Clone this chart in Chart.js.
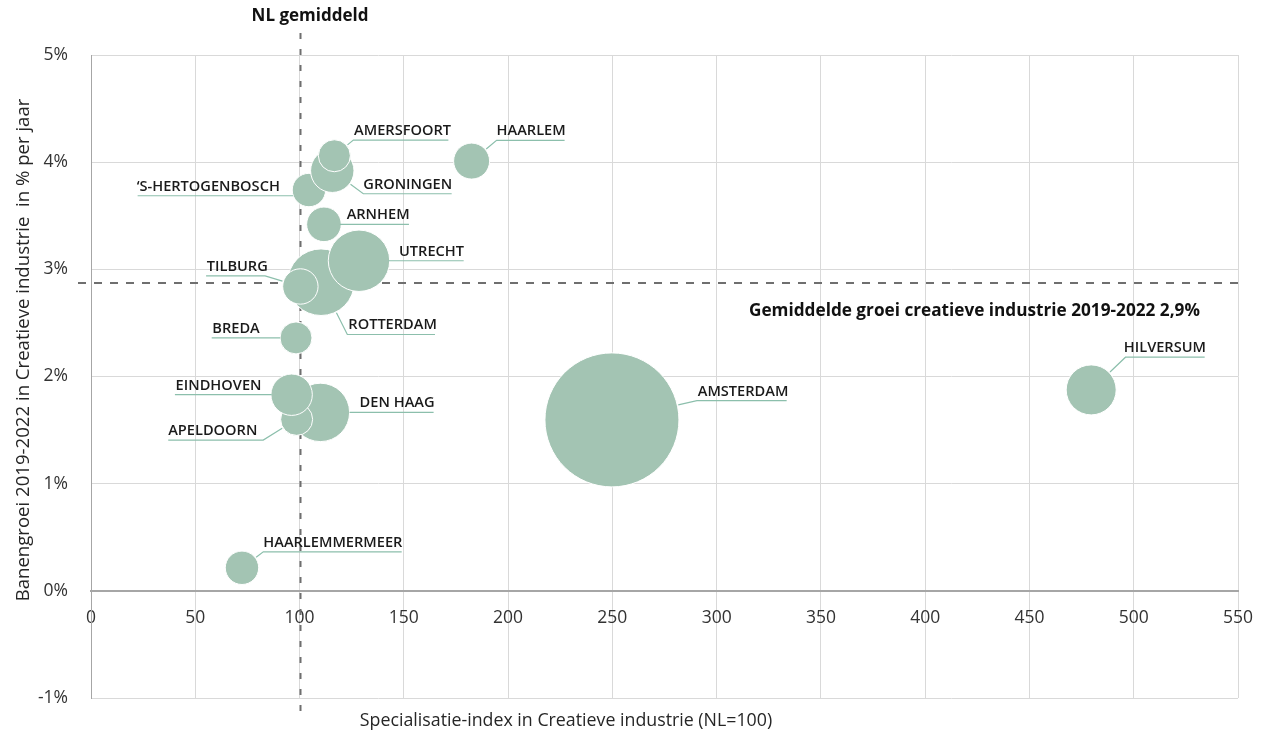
<!DOCTYPE html>
<html><head><meta charset="utf-8">
<script src="https://cdn.jsdelivr.net/npm/chart.js@4.4.1/dist/chart.umd.min.js"></script>
<style>html,body{margin:0;padding:0;background:#fff}#wrap{width:1268px;height:739px;position:relative}</style>
</head><body><div id="wrap"><canvas id="c" width="1268" height="739"></canvas></div>
<script>
// ---- data (drawing order: later bubbles on top) ----
const cities = ['ROTTERDAM','UTRECHT','TILBURG','DEN HAAG','APELDOORN','EINDHOVEN','\u2018S-HERTOGENBOSCH','GRONINGEN','AMERSFOORT','ARNHEM','BREDA','HAARLEM','HAARLEMMERMEER','AMSTERDAM','HILVERSUM'];
const specIndex = [110.3, 128.5, 100.4, 110.0, 98.6, 96.2, 104.5, 115.7, 116.7, 111.7, 98.3, 182.5, 72.4, 249.8, 479.6];
const growthPct = [2.88, 3.08, 2.84, 1.665, 1.60, 1.83, 3.74, 3.92, 4.06, 3.42, 2.36, 4.01, 0.215, 1.595, 1.875];
const bubbleSize = [33.3, 30.7, 17.7, 29.2, 16, 20.7, 16.7, 21.7, 16, 17.3, 16, 18, 16.7, 67, 25];
const xTickValues = [0,50,100,150,200,250,300,350,400,450,500,550];
const yTickValues = [-1,0,1,2,3,4,5];
const nlAverageIndex = 100;
const avgGrowth = 2.87;
const avgGrowthText = 'Gemiddelde groei creatieve industrie 2019-2022 2,9%';
const nlAvgText = 'NL gemiddeld';
const xTitle = 'Specialisatie-index in Creatieve industrie (NL=100)';
const yTitle = 'Banengroei 2019-2022 in Creatieve industrie  in % per jaar';

// ---- label placement (pixel offsets from bubble centre) ----
const labelLayout = {
  'ROTTERDAM':{side:'r',dx:26.3,dy:52.3,len:87.7,tdx:1},
  'UTRECHT':{side:'r',dx:29.7,dy:0,len:75,tdx:10.3},
  'TILBURG':{side:'l',dx:-35.3,dy:-10.6,len:59,tdx:0.7},
  'DEN HAAG':{side:'r',dx:29.2,dy:0,len:84,tdx:10},
  'APELDOORN':{side:'l',dx:-33.4,dy:20.7,len:95,tdx:0},
  'EINDHOVEN':{side:'l',dx:-20,dy:0,len:96.7,tdx:0.7},
  '\u2018S-HERTOGENBOSCH':{side:'l',dx:-15.7,dy:5.7,len:155.6,tdx:-1},
  'GRONINGEN':{side:'r',dx:31,dy:23,len:88.4,tdx:0},
  'AMERSFOORT':{side:'r',dx:19,dy:-15.7,len:95,tdx:0.7},
  'ARNHEM':{side:'r',dx:16,dy:0,len:69,tdx:6.7},
  'BREDA':{side:'l',dx:-16,dy:0,len:68.3,tdx:0.6},
  'HAARLEM':{side:'r',dx:25,dy:-20.7,len:68,tdx:0},
  'HAARLEMMERMEER':{side:'r',dx:21.3,dy:-16,len:138.4,tdx:0},
  'AMSTERDAM':{side:'r',dx:85,dy:-19.3,len:89.7,tdx:0.8},
  'HILVERSUM':{side:'r',dx:34.3,dy:-32.7,len:79.2,tdx:-1.7}
};

const FONT = '"Open Sans", "Noto Sans", sans-serif';

const overlayPlugin = {
  id: 'overlay',
  beforeDatasetsDraw(chart) {
    const {ctx, chartArea, scales:{x, y}} = chart;
    ctx.save();
    ctx.strokeStyle = '#6f6f6f';
    ctx.lineWidth = 2;
    const px = Math.round(x.getPixelForValue(nlAverageIndex)) + 0.5;
    ctx.setLineDash([6, 10]);
    ctx.beginPath(); ctx.moveTo(px, 33); ctx.lineTo(px, 716); ctx.stroke();
    const py = Math.round(y.getPixelForValue(avgGrowth));
    ctx.setLineDash([8, 8]);
    ctx.beginPath(); ctx.moveTo(78, py); ctx.lineTo(chartArea.right, py); ctx.stroke();
    ctx.restore();
  },
  afterDatasetsDraw(chart) {
    const {ctx} = chart;
    const meta = chart.getDatasetMeta(0);
    ctx.save();
    meta.data.forEach((pt, i) => {
      const L = labelLayout[cities[i]];
      if (!L) return;
      const r = pt.options.radius;
      const cx = pt.x, cy = pt.y;
      const kx = cx + L.dx, ky = cy + L.dy;
      ctx.strokeStyle = '#8cbfac';
      ctx.lineWidth = 1.2;
      ctx.setLineDash([]);
      ctx.beginPath();
      const dist = Math.hypot(L.dx, L.dy);
      if (dist > r + 1) {
        ctx.moveTo(cx + L.dx / dist * (r + 1), cy + L.dy / dist * (r + 1));
        ctx.lineTo(kx, ky);
      } else {
        ctx.moveTo(kx, ky);
      }
      const ex = L.side === 'r' ? kx + L.len : kx - L.len;
      ctx.lineTo(ex, ky);
      ctx.stroke();
      ctx.fillStyle = '#1a1a1a';
      ctx.font = '600 14.6px ' + FONT;
      ctx.textAlign = 'left';
      ctx.textBaseline = 'alphabetic';
      const tx = (L.side === 'r' ? kx : ex) + L.tdx;
      ctx.fillText(cities[i], tx, ky - 5);
    });
    // annotations
    ctx.fillStyle = '#111';
    ctx.font = 'bold 17px ' + FONT;
    ctx.textAlign = 'center';
    ctx.fillText(nlAvgText, 310, 21);
    ctx.font = 'bold 17.2px ' + FONT;
    ctx.textAlign = 'left';
    ctx.fillText(avgGrowthText, 749, 316);
    // axis titles
    ctx.fillStyle = '#262626';
    ctx.font = '17.8px ' + FONT;
    ctx.textAlign = 'center';
    ctx.fillText(xTitle, 566, 726);
    ctx.save();
    ctx.translate(29, 350);
    ctx.rotate(-Math.PI / 2);
    ctx.font = '18.6px ' + FONT;
    ctx.fillText(yTitle, 0, 0);
    ctx.restore();
    ctx.restore();
  }
};

const points = cities.map((c, i) => ({x: specIndex[i], y: growthPct[i], r: bubbleSize[i]}));

new Chart(document.getElementById('c'), {
  type: 'bubble',
  data: {
    datasets: [{
      data: points,
      backgroundColor: '#a3c4b3',
      borderColor: '#ffffff',
      borderWidth: 1,
      hoverBorderWidth: 1
    }]
  },
  options: {
    responsive: false,
    animation: false,
    events: [],
    layout: {autoPadding: false, padding: {left: 0, top: 55, right: 30, bottom: 41}},
    plugins: {legend: {display: false}, tooltip: {enabled: false}, title: {display: false}},
    scales: {
      x: {
        type: 'linear',
        position: {y: 0},
        min: xTickValues[0],
        max: xTickValues[xTickValues.length - 1],
        afterBuildTicks: s => { s.ticks = xTickValues.map(v => ({value: v})); },
        afterFit: s => { s.height = 0; s.paddingLeft = 0; s.paddingRight = 0; s.paddingTop = 0; s.paddingBottom = 0; },
        grid: {color: '#d9d9d9', lineWidth: 1, drawTicks: false},
        border: {color: '#a6a6a6', width: 2},
        ticks: {color: '#333', padding: 17, font: {family: FONT, size: 17.5}, maxRotation: 0, autoSkip: false}
      },
      y: {
        type: 'linear',
        position: 'left',
        min: yTickValues[0],
        max: yTickValues[yTickValues.length - 1],
        afterBuildTicks: s => { s.ticks = yTickValues.map(v => ({value: v})); },
        afterFit: s => { s.width = 91; s.paddingTop = 0; s.paddingBottom = 0; s.paddingLeft = 0; s.paddingRight = 0; },
        grid: {color: '#d9d9d9', lineWidth: 1, drawTicks: false},
        border: {color: '#a6a6a6', width: 1},
        ticks: {color: '#333', padding: 23, font: {family: FONT, size: 17.5}, callback: v => v + '%'}
      }
    }
  },
  plugins: [overlayPlugin]
});
</script></body></html>
